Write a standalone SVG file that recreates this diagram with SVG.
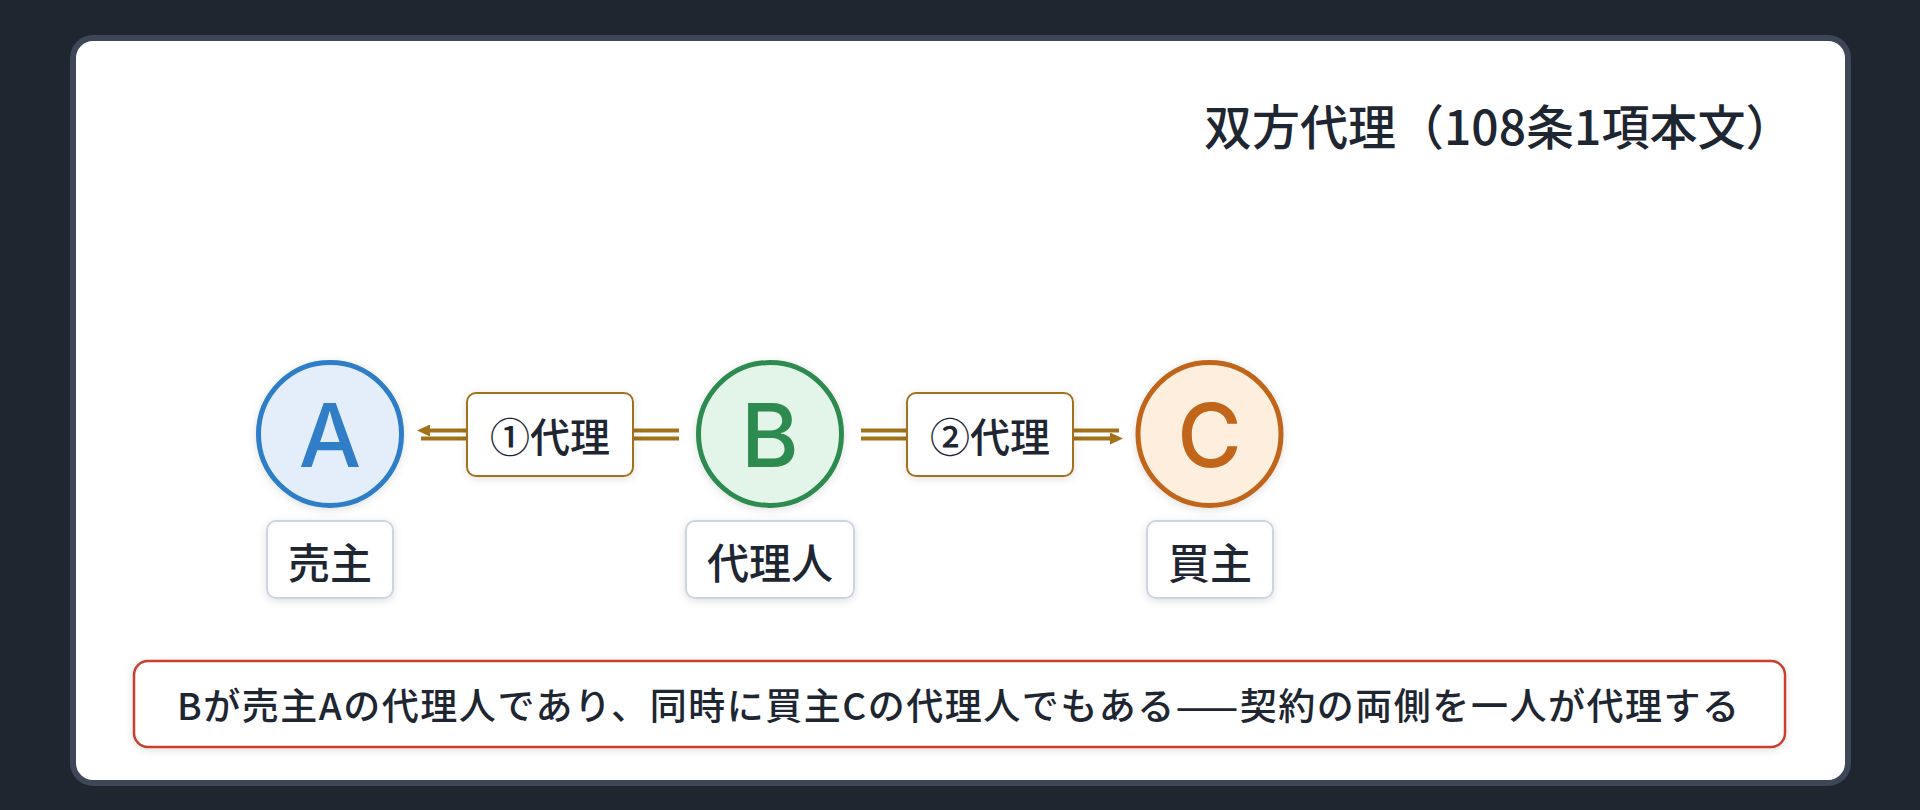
<svg xmlns="http://www.w3.org/2000/svg" width="1920" height="810" viewBox="0 0 1920 810">
  <defs>
    <style>
      .t { font-family: "Noto Sans CJK JP", "Noto Sans", sans-serif; fill: #1e2631; }
      .nodeLbl { font-size: 42px; font-weight: 500; }
      .edgeLbl { font-size: 40px; font-weight: 500; }
      .letter { font-family: Inter, "Noto Sans", "Liberation Sans", sans-serif; font-size: 88px; font-weight: 500; }
      .lblbox { fill: #ffffff; stroke: #cbd5e1; stroke-width: 2; }
      .edgebox { fill: #ffffff; stroke: #a2711a; stroke-width: 2; }
      .conn { stroke: #a2711a; stroke-width: 4; fill: none; }
    </style>
    <marker id="ah" viewBox="0 0 13 12" refX="0" refY="6" markerWidth="13" markerHeight="12" markerUnits="userSpaceOnUse" orient="auto">
      <path d="M0,0 L13,6 L0,12 Z" fill="#a2711a"/>
    </marker>
    <filter id="sh" x="-20%" y="-20%" width="140%" height="150%">
      <feDropShadow dx="0" dy="2" stdDeviation="4" flood-color="#000" flood-opacity="0.12"/>
    </filter>
  </defs>

  <rect x="0" y="0" width="1920" height="810" fill="#1f2630"/>
  <rect id="card" x="73" y="38" width="1775" height="745" rx="20" fill="#ffffff" stroke="#3d4757" stroke-width="6"/>

  <g id="title">
    <text class="t" x="1204" y="124" font-size="48" font-weight="500" dominant-baseline="central">双方代理（108条1項本文）</text>
  </g>

  <g id="connectors">
    <path class="conn" d="M679,430.5 L430,430.5" marker-end="url(#ah)"/>
    <path class="conn" d="M679,438.5 L421,438.5"/>
    <path class="conn" d="M861,430.5 L1119,430.5"/>
    <path class="conn" d="M861,438.5 L1110,438.5" marker-end="url(#ah)"/>
  </g>

  <g id="edge1">
    <rect class="edgebox" x="467" y="393" width="166" height="83" rx="9" filter="url(#sh)"/>
    <text class="t edgeLbl" x="550" y="435" text-anchor="middle" dominant-baseline="central">①代理</text>
  </g>
  <g id="edge2">
    <rect class="edgebox" x="907" y="393" width="166" height="83" rx="9" filter="url(#sh)"/>
    <text class="t edgeLbl" x="990" y="435" text-anchor="middle" dominant-baseline="central">②代理</text>
  </g>

  <g id="nodeA">
    <circle cx="330" cy="434" r="71.5" fill="#e3eefa" stroke="#2f7ec7" stroke-width="5" filter="url(#sh)"/>
    <text class="letter" x="330" y="467" text-anchor="middle" fill="#2f7ec7">A</text>
    <rect class="lblbox" x="267" y="521" width="126" height="77" rx="9" filter="url(#sh)"/>
    <text class="t nodeLbl" x="330" y="560" text-anchor="middle" dominant-baseline="central">売主</text>
  </g>

  <g id="nodeB">
    <circle cx="770" cy="434" r="71.5" fill="#e3f4e8" stroke="#2e8b4f" stroke-width="5" filter="url(#sh)"/>
    <text class="letter" x="770" y="467" text-anchor="middle" fill="#2e8b4f">B</text>
    <rect class="lblbox" x="686" y="521" width="168" height="77" rx="9" filter="url(#sh)"/>
    <text class="t nodeLbl" x="770" y="560" text-anchor="middle" dominant-baseline="central">代理人</text>
  </g>

  <g id="nodeC">
    <circle cx="1209.5" cy="434" r="71.5" fill="#fdeedd" stroke="#c0651a" stroke-width="5" filter="url(#sh)"/>
    <text class="letter" x="1209.5" y="467" text-anchor="middle" fill="#c0651a">C</text>
    <rect class="lblbox" x="1147" y="521" width="126" height="77" rx="9" filter="url(#sh)"/>
    <text class="t nodeLbl" x="1210" y="560" text-anchor="middle" dominant-baseline="central">買主</text>
  </g>

  <g id="note">
    <rect x="134" y="661" width="1651" height="86" rx="14" fill="#ffffff" stroke="#c8412e" stroke-width="2.5" filter="url(#sh)"/>
    <text class="t" x="958" y="704" font-size="37" font-weight="500" text-anchor="middle" dominant-baseline="central" textLength="1562" lengthAdjust="spacing">Bが売主Aの代理人であり、同時に買主Cの代理人でもある——契約の両側を一人が代理する</text>
  </g>
</svg>
